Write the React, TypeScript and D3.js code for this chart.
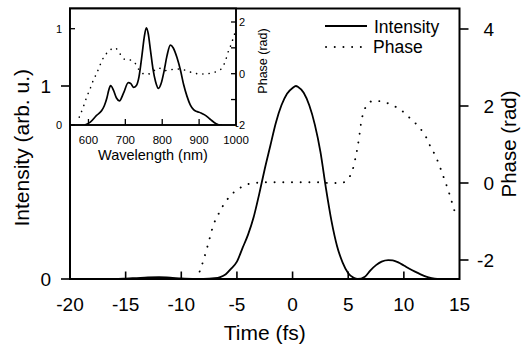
import React from "react";
import * as d3 from "d3";

// Main panel: time (fs) vs intensity / phase
const timeI = [-20, -16, -15, -14, -13, -12, -11, -10, -9, -8, -7, -6.5, -6, -5.5, -5, -4.5, -4, -3.5, -3, -2.5, -2, -1.5, -1, -0.5, 0, 0.3, 0.5, 1, 1.5, 2, 2.5, 3, 3.5, 4, 4.5, 5, 5.5, 5.85, 6.5, 7, 7.5, 8, 8.6, 9, 9.5, 10, 10.5, 11, 11.5, 12, 12.5, 13, 13.5];
const intensity = [0, 0, 0.002, 0.005, 0.008, 0.009, 0.007, 0.003, 0.001, 0.001, 0.004, 0.01, 0.025, 0.055, 0.09, 0.16, 0.23, 0.32, 0.44, 0.57, 0.69, 0.81, 0.9, 0.96, 0.99, 1.0, 0.995, 0.965, 0.9, 0.8, 0.66, 0.47, 0.3, 0.17, 0.085, 0.03, 0.006, 0, 0.012, 0.045, 0.072, 0.09, 0.098, 0.096, 0.086, 0.07, 0.053, 0.038, 0.024, 0.012, 0.005, 0.001, 0];

const timeP = [-8.35, -8.0, -7.6, -7.1, -6.7, -6.25, -5.65, -5, -4.5, -4, -3, -2, 0, 2, 3.5, 4.5, 5, 5.2, 5.5, 5.7, 5.85, 6, 6.1, 6.25, 6.5, 6.8, 7.2, 7.6, 8.1, 8.9, 9.8, 10.6, 11.4, 12, 12.4, 12.85, 13.2, 13.5, 13.8, 14.1, 14.35, 14.6];
const phase = [-2.3, -2.0, -1.6, -1.08, -0.83, -0.59, -0.35, -0.18, -0.09, -0.03, 0.01, 0.02, 0.02, 0.02, 0.0, 0.01, 0.12, 0.2, 0.45, 0.72, 0.95, 1.23, 1.45, 1.7, 1.93, 2.06, 2.13, 2.13, 2.11, 2.03, 1.88, 1.67, 1.44, 1.19, 0.94, 0.7, 0.45, 0.21, -0.03, -0.29, -0.53, -0.77];

// Inset: wavelength (nm) vs spectrum / spectral phase
const wlI = [590, 605, 622, 636, 643, 650, 655, 660, 668, 676, 684, 695, 708, 715, 722, 730, 737, 745, 752, 757, 762, 768, 775, 782, 790, 797, 805, 813, 822, 830, 840, 850, 858, 867, 876, 885, 894, 905, 915, 930, 945, 955, 962];
const spectrum = [0, 0.03, 0.1, 0.15, 0.2, 0.28, 0.36, 0.41, 0.36, 0.28, 0.25, 0.33, 0.44, 0.43, 0.39, 0.41, 0.5, 0.72, 0.93, 1.01, 0.95, 0.78, 0.58, 0.45, 0.38, 0.43, 0.56, 0.72, 0.83, 0.8, 0.7, 0.56, 0.42, 0.3, 0.21, 0.16, 0.14, 0.125, 0.105, 0.06, 0.015, 0, 0];

const wlP = [575, 585, 594, 605, 614, 622, 632, 641, 650, 660, 672, 686, 699, 713, 727, 736, 749, 763, 776, 790, 808, 826, 849, 871, 889, 912, 935, 948, 962, 971, 980, 986, 993, 1000];
const specPhase = [-1.68, -1.33, -0.95, -0.57, -0.22, 0.0, 0.35, 0.63, 0.8, 0.93, 1.0, 0.76, 0.55, 0.53, 0.4, 0.17, 0.0, -0.01, 0.1, 0.22, 0.12, 0.16, 0.18, 0.09, 0.01, -0.01, 0.03, 0.09, 0.22, 0.48, 0.9, 1.1, 1.4, 1.7];

const xTicks = [-20, -15, -10, -5, 0, 5, 10, 15];
const yITicks = [0, 1];
const yPTicks = [-2, 0, 2, 4];
const wlTicks = [600, 700, 800, 900, 1000];
const insetITicks = [0, 1];
const insetPTickLabels = [-2, 0, 2];
const insetPTicks = [-1, 0, 1, 2];

const FONT = "'Liberation Sans', Arial, Helvetica, sans-serif";

export default function App() {
  const x = d3.scaleLinear().domain([-20, 15]).range([70, 459.5]);
  const yI = d3.scaleLinear().domain([0, 1]).range([279, 86]);
  const yP = d3.scaleLinear().domain([0, 2]).range([183, 106]);

  const xw = d3.scaleLinear().domain([550, 1000]).range([70, 236]);
  const yIi = d3.scaleLinear().domain([0, 1]).range([125, 28.7]);
  const yPi = d3.scaleLinear().domain([0, 2]).range([73.7, 22]);

  const lineI = d3.line<number>().x((_, i) => x(timeI[i])).y((d) => yI(d)).curve(d3.curveMonotoneX)(intensity) || "";
  const lineP = d3.line<number>().x((_, i) => x(timeP[i])).y((d) => yP(d)).curve(d3.curveMonotoneX)(phase) || "";
  const lineS = d3.line<number>().x((_, i) => xw(wlI[i])).y((d) => yIi(d)).curve(d3.curveMonotoneX)(spectrum) || "";
  const lineSP = d3.line<number>().x((_, i) => xw(wlP[i])).y((d) => yPi(d)).curve(d3.curveMonotoneX)(specPhase) || "";

  const [x0, x1] = x.range();
  const top = 8.5, bottom = 279;
  const [ix0, ix1] = xw.range();
  const iTop = 8.5, iBottom = 125;

  const dots = { strokeDasharray: "0.1 8.6", strokeLinecap: "round" as const, strokeWidth: 1.9 };

  return (
    <svg width={522} height={345} style={{ position: "absolute", left: 0, top: 0, background: "#fff" }} fontFamily={FONT}>
      <defs>
        <clipPath id="mainClip"><rect x={x0} y={top} width={x1 - x0} height={bottom - top} /></clipPath>
        <clipPath id="insetClip"><rect x={ix0} y={iTop} width={ix1 - ix0} height={iBottom - iTop} /></clipPath>
      </defs>
      <rect width={522} height={345} fill="#fff" />

      {/* main curves */}
      <g clipPath="url(#mainClip)">
        <path d={lineI} fill="none" stroke="#000" strokeWidth={1.8} />
        <path d={lineP} fill="none" stroke="#000" {...dots} />
      </g>

      {/* main frame */}
      <rect x={x0} y={top} width={x1 - x0} height={bottom - top} fill="none" stroke="#000" strokeWidth={2} />

      {/* x ticks (inward) */}
      {xTicks.map((t) => (
        <g key={"xt" + t}>
          {t > -20 && t < 15 && <line x1={x(t)} x2={x(t)} y1={bottom} y2={bottom - 7.5} stroke="#000" strokeWidth={1.6} />}
          <text x={x(t)} y={311} fontSize={19} textAnchor="middle">{t}</text>
        </g>
      ))}
      <text x={(x0 + x1) / 2} y={340} fontSize={21} textAnchor="middle">Time (fs)</text>

      {/* left intensity axis */}
      {yITicks.map((v) => (
        <g key={"yi" + v}>
          <line x1={x0 - 9} x2={x0} y1={yI(v)} y2={yI(v)} stroke="#000" strokeWidth={1.6} />
          <text x={51} y={yI(v) + 7} fontSize={19} textAnchor="end">{v}</text>
        </g>
      ))}
      <text transform={`translate(29,${(top + bottom) / 2 + 4}) rotate(-90)`} fontSize={21} textAnchor="middle">Intensity (arb. u.)</text>

      {/* right phase axis */}
      {yPTicks.map((v) => (
        <g key={"yp" + v}>
          <line x1={x1} x2={x1 + 9} y1={yP(v)} y2={yP(v)} stroke="#000" strokeWidth={1.6} />
          <text x={494} y={yP(v) + 7} fontSize={19} textAnchor="end">{v}</text>
        </g>
      ))}
      <text transform={`translate(516,144) rotate(-90)`} fontSize={20.5} textAnchor="middle">Phase (rad)</text>

      {/* legend */}
      <line x1={325} x2={367} y1={26} y2={26} stroke="#000" strokeWidth={1.8} />
      <text x={374} y={33} fontSize={17.5}>Intensity</text>
      <line x1={326} x2={367} y1={47} y2={47} stroke="#000" {...dots} />
      <text x={373} y={53} fontSize={17.5}>Phase</text>

      {/* inset */}
      <rect x={ix0} y={iTop} width={ix1 - ix0} height={iBottom - iTop} fill="#fff" stroke="none" />
      <g clipPath="url(#insetClip)">
        <path d={lineS} fill="none" stroke="#000" strokeWidth={1.7} />
        <path d={lineSP} fill="none" stroke="#000" strokeDasharray="0.1 6.2" strokeLinecap="round" strokeWidth={1.6} />
      </g>
      <rect x={ix0} y={iTop} width={ix1 - ix0} height={iBottom - iTop} fill="none" stroke="#000" strokeWidth={1.9} />

      {wlTicks.map((w) => (
        <g key={"wl" + w}>
          {w < 1000 && <line x1={xw(w)} x2={xw(w)} y1={iBottom} y2={iBottom - 6} stroke="#000" strokeWidth={1.3} />}
          <text x={xw(w)} y={144} fontSize={11.5} textAnchor="middle">{w}</text>
        </g>
      ))}
      <text x={153} y={160} fontSize={14.5} textAnchor="middle">Wavelength (nm)</text>

      {insetITicks.map((v) => (
        <g key={"ii" + v}>
          <line x1={ix0} x2={ix0 + 5} y1={yIi(v)} y2={yIi(v)} stroke="#000" strokeWidth={1.3} />
          <text x={62} y={yIi(v) + 4} fontSize={11} textAnchor="end">{v}</text>
        </g>
      ))}

      {insetPTicks.map((v) => (
        <line key={"ipt" + v} x1={ix1 - 5} x2={ix1} y1={yPi(v)} y2={yPi(v)} stroke="#000" strokeWidth={1.3} />
      ))}
      {insetPTickLabels.map((v) => (
        <text key={"ipl" + v} x={245} y={yPi(v) + 4} fontSize={11} textAnchor="end">{v}</text>
      ))}
      <text transform={`translate(267,61) rotate(-90)`} fontSize={12.5} textAnchor="middle">Phase (rad)</text>
    </svg>
  );
}
